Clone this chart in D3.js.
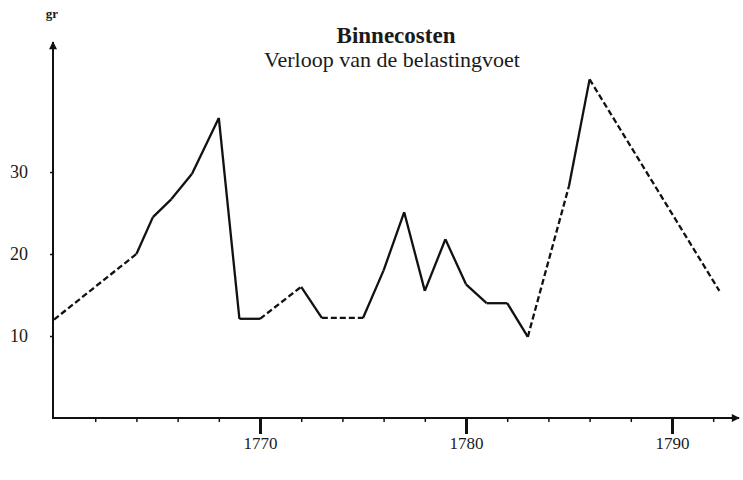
<!DOCTYPE html>
<html>
<head>
<meta charset="utf-8">
<script src="https://cdn.jsdelivr.net/npm/d3@7"></script>
<style>
 body { margin: 0; background: #fff; }
 svg text { font-family: "Liberation Serif", "DejaVu Serif", serif; fill: #1a1a1a; }
</style>
</head>
<body>
<div id="chart"></div>
<script>
// tax rate (groten) per year
var years  = [1760, 1764, 1764.8, 1765.7, 1766.7, 1768, 1769, 1770, 1772, 1773, 1775, 1776, 1777, 1778, 1779, 1780, 1781, 1782, 1783, 1785, 1786, 1792.3];
var values = [12, 20, 24.5, 26.7, 29.8, 36.6, 12.1, 12.1, 16, 12.2, 12.2, 18, 25.1, 15.5, 21.8, 16.3, 14, 14, 9.9, 28.3, 41.3, 15.5];
// segment i runs from point i to point i+1; true = interpolated (dashed)
var interpolated = [true, false, false, false, false, false, false, true, false, true, false, false, false, false, false, false, false, false, true, false, true];

var majorTicks = [1770, 1780, 1790];
var minorTicks = [1762, 1764, 1766, 1768, 1772, 1774, 1776, 1778, 1782, 1784, 1786, 1788, 1792];
var yTicks = [10, 20, 30];

var title = "Binnecosten";
var subtitle = "Verloop van de belastingvoet";
var unit = "gr";

var width = 743,
 height = 480;

var svg = d3.select("#chart")
 .append("svg")
 .attr("width", width)
 .attr("height", height);

var x = d3.scaleLinear()
 .domain([1759.95, 1793.35])
 .range([53, 741]);

var y = d3.scaleLinear()
 .domain([0, 46.1])
 .range([418, 40]);

var defs = svg.append("defs");
defs.append("marker")
 .attr("id", "arrow")
 .attr("viewBox", "0 0 10 10")
 .attr("refX", 9).attr("refY", 5)
 .attr("markerWidth", 5).attr("markerHeight", 4)
 .attr("orient", "auto")
 .append("path")
 .attr("d", "M0,0 L10,5 L0,10 Z")
 .attr("fill", "#111");

// axis lines with arrows
svg.append("line")
 .attr("x1", x.range()[0]).attr("y1", y(0))
 .attr("x2", x.range()[1] - 2).attr("y2", y(0))
 .attr("stroke", "#111").attr("stroke-width", 2)
 .attr("marker-end", "url(#arrow)");

svg.append("line")
 .attr("x1", x.range()[0]).attr("y1", y(0) + 1)
 .attr("x2", x.range()[0]).attr("y2", y.range()[1] + 2)
 .attr("stroke", "#111").attr("stroke-width", 2)
 .attr("marker-end", "url(#arrow)");

// x axis: minor ticks
var minorAxis = d3.axisBottom(x)
 .tickValues(minorTicks)
 .tickSize(4)
 .tickFormat("");
svg.append("g")
 .attr("transform", "translate(0," + y(0) + ")")
 .call(minorAxis)
 .call(function(g) { g.select(".domain").remove(); })
 .selectAll("line").attr("stroke", "#111").attr("stroke-width", 1.5);

// x axis: major ticks and labels
var majorAxis = d3.axisBottom(x)
 .tickValues(majorTicks)
 .tickSize(16)
 .tickPadding(3)
 .tickFormat(d3.format("d"));
var gx = svg.append("g")
 .attr("transform", "translate(0," + y(0) + ")")
 .call(majorAxis)
 .call(function(g) { g.select(".domain").remove(); });
gx.selectAll("line").attr("stroke", "#111").attr("stroke-width", 3);
gx.selectAll("text")
 .style("font-size", "17px")
 .attr("fill", "#1a1a1a");

// y axis
var yAxis = d3.axisLeft(y)
 .tickValues(yTicks)
 .tickSize(3)
 .tickPadding(22)
 .tickFormat(d3.format("d"));
var gy = svg.append("g")
 .attr("transform", "translate(" + x.range()[0] + ",0)")
 .call(yAxis)
 .call(function(g) { g.select(".domain").remove(); });
gy.selectAll("line").attr("stroke", "#111").attr("stroke-width", 1.5);
gy.selectAll("text")
 .style("font-size", "18px")
 .attr("fill", "#1a1a1a");

// unit
svg.append("text")
 .attr("x", 52).attr("y", 18)
 .attr("text-anchor", "middle")
 .style("font-size", "13px")
 .style("font-weight", "bold")
 .text(unit);

// titles
svg.append("text")
 .attr("x", 396).attr("y", 43)
 .attr("text-anchor", "middle")
 .style("font-size", "23px")
 .style("font-weight", "bold")
 .text(title);

svg.append("text")
 .attr("x", 392).attr("y", 67)
 .attr("text-anchor", "middle")
 .style("font-size", "22px")
 .text(subtitle);

// line segments
var points = years.map(function(d, i) { return [d, values[i]]; });
var segments = d3.pairs(points);

var line = d3.line()
 .x(function(d) { return x(d[0]); })
 .y(function(d) { return y(d[1]); });

svg.append("g")
 .selectAll("path")
 .data(segments)
 .enter().append("path")
 .attr("d", line)
 .attr("fill", "none")
 .attr("stroke", "#111")
 .attr("stroke-width", 2.3)
 .attr("stroke-linecap", "butt")
 .attr("stroke-linejoin", "round")
 .attr("stroke-dasharray", function(d, i) { return interpolated[i] ? "6,3" : null; });
</script>
</body>
</html>
